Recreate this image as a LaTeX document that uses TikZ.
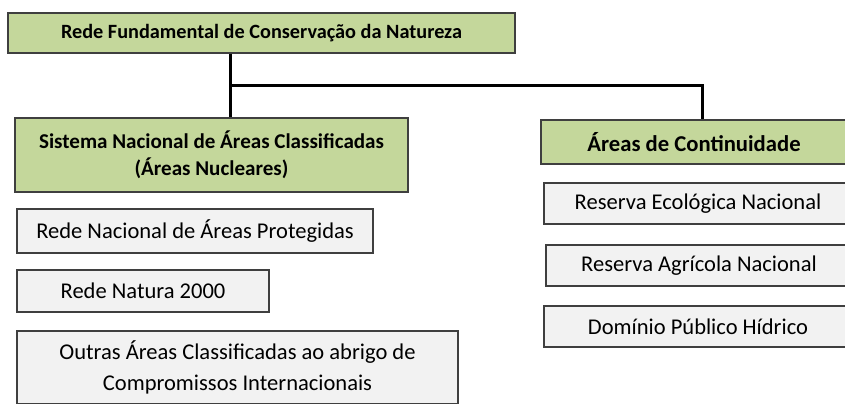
\documentclass[tikz,border=0pt]{standalone}
\usepackage{fontspec}
\setmainfont{Carlito}
\definecolor{verde}{HTML}{C4D79B}
\definecolor{cinza}{HTML}{F2F2F2}
\definecolor{borda}{HTML}{3F3F3F}
\tikzset{
 caixa/.style={draw=borda,line width=1pt,align=center,inner sep=0pt,font=\fontsize{16.9}{20}\selectfont},
 titulo/.style={caixa,fill=verde,font=\fontsize{#1}{20}\selectfont\bfseries},
 titulo/.default=17,
 item/.style={caixa,fill=cinza}, 
 ligacao/.style={line width=2.25pt,black}
}
\begin{document}
\begin{tikzpicture}[x=0.75pt,y=-0.75pt]
 \clip (0,0) rectangle (845,403);
 \fill[white] (0,0) rectangle (845,403);
 \node[titulo=15.2,minimum width=380.25pt,minimum height=30pt] (rede) at (261.5,33) {Rede Fundamental de Conservação da Natureza};
 \node[titulo=15.8,minimum width=294.75pt,minimum height=55.5pt] (snac) at (211.5,155) {Sistema Nacional de Áreas Classificadas\\(Áreas Nucleares)};
 \node[titulo,minimum width=229.5pt,minimum height=33pt] (cont) at (694,142) {Áreas de Continuidade};
 \node[item,minimum width=267pt,minimum height=33pt] (rnap) at (195,231) {Rede Nacional de Áreas Protegidas};
 \node[item,minimum width=189pt,minimum height=31.5pt] (natura) at (143,291) {Rede Natura 2000};
 \node[item,minimum width=330.75pt,minimum height=54.75pt] (outras) at (237.5,367.5) {Outras Áreas Classificadas ao abrigo de\\[3pt]Compromissos Internacionais};
 \node[item,minimum width=231pt,minimum height=30.75pt] (ren) at (698,203.5) {Reserva Ecológica Nacional};
 \node[item,minimum width=229.5pt,minimum height=30.75pt] (ran) at (699,265.5) {Reserva Agrícola Nacional};
 \node[item,minimum width=231pt,minimum height=30.75pt] (dph) at (698,326.5) {Domínio Público Hídrico};
 \coordinate (ramo) at (230,85);
 \coordinate (canto) at (702,85);
 \draw[ligacao] (rede.south -| ramo) -- (snac.north -| ramo);
 \draw[ligacao] (ramo) -- (canto) -- (canto |- cont.north);
\end{tikzpicture}
\end{document}
